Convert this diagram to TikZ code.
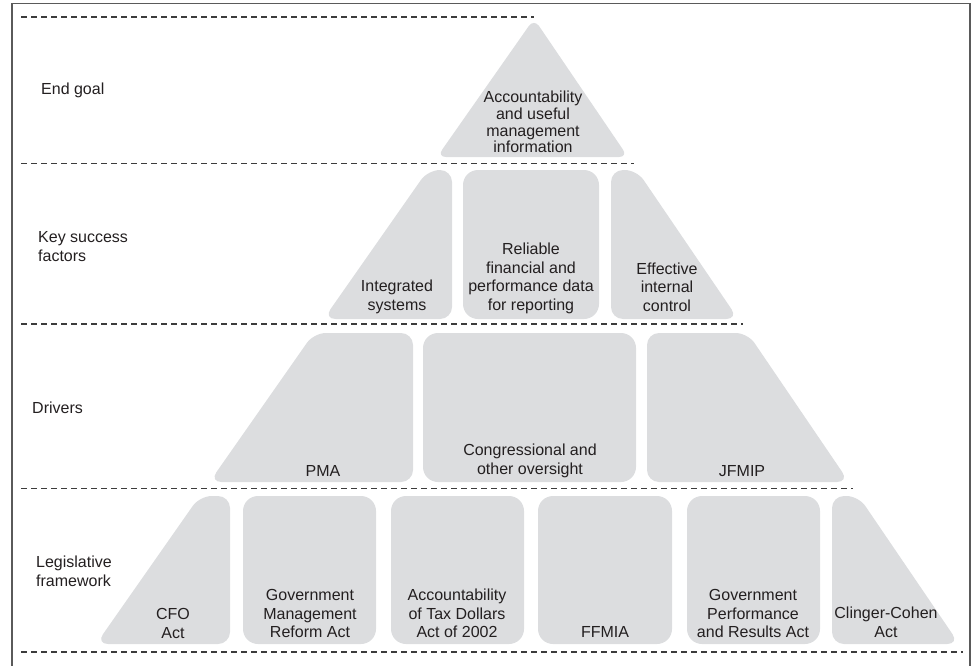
\documentclass[tikz,border=0pt]{standalone}
\usepackage{fontspec}
\setmainfont{Liberation Sans}
\definecolor{boxgray}{RGB}{220,221,223}
\definecolor{textcol}{RGB}{35,31,32}
\definecolor{dashgray}{RGB}{60,60,60}
\definecolor{framegray}{RGB}{90,90,90}
\begin{document}
\begin{tikzpicture}[x=1pt,y=-1pt,
  tri/.style={fill=boxgray, rounded corners=9pt},
  trap/.style={fill=boxgray, rounded corners=12pt},
  rbox/.style={fill=boxgray, rounded corners=15pt},
  dline/.style={draw=dashgray, line width=1.1pt, dash pattern=on 5.5pt off 4.5pt},
  lbl/.style={font=\fontsize{16}{18.5}\selectfont, align=left, anchor=west, inner sep=0pt, text=textcol},
  txt/.style={font=\fontsize{16}{18.5}\selectfont, align=center, inner sep=0pt, text=textcol},
  toptxt/.style={font=\fontsize{16}{16.7}\selectfont, align=center, inner sep=0pt, text=textcol}]
\useasboundingbox (0,0) rectangle (979,666);
% frame
\draw[framegray, line width=1.5pt] (12,670) -- (12,3.3) -- (970,3.3) -- (970,670);
% dashed separators
\coordinate (d0a) at (21,17);   \coordinate (d0b) at (534,17);
\coordinate (d1a) at (21,163.5);\coordinate (d1b) at (634,163.5);
\coordinate (d2a) at (21,324);  \coordinate (d2b) at (743,324);
\coordinate (d3a) at (21,488.5);\coordinate (d3b) at (853,488.5);
\coordinate (d4a) at (21,652);  \coordinate (d4b) at (963,652);
\draw[dline] (d0a) -- (d0b);
\draw[dline] (d1a) -- (d1b);
\draw[dline] (d2a) -- (d2b);
\draw[dline] (d3a) -- (d3b);
\draw[dline] (d4a) -- (d4b);
% tier 0
\fill[tri] (534,18.6) -- (628,157) -- (437,157) -- cycle;
% tier 1
\fill[trap] (323.6,319) -- (427.9,170) -- (452,170) -- (452,319) -- cycle;
\fill[rbox] (463,170) rectangle (599,319);
\fill[trap] (611,170) -- (636.8,170) -- (738.2,319) -- (611,319) -- cycle;
% tier 2
\fill[trap] (209.5,482) -- (313.8,333) -- (413,333) -- (413,482) -- cycle;
\fill[rbox] (423,333) rectangle (636,482);
\fill[trap] (647,333) -- (747.7,333) -- (849,482) -- (647,482) -- cycle;
% tier 3
\fill[trap] (96.1,644) -- (199.7,496) -- (230,496) -- (230,644) -- cycle;
\fill[rbox] (243,496) rectangle (376,644);
\fill[rbox] (391,496) rectangle (524,644);
\fill[rbox] (538,496) rectangle (672,644);
\fill[rbox] (687,496) rectangle (820,644);
\fill[trap] (832,496) -- (858.5,496) -- (959.2,644) -- (832,644) -- cycle;
% left labels
\node[lbl] (lend) at (41,90) {End goal};
\node[lbl] (lkey) at (38,246.5) {Key success\\factors};
\node[lbl] (ldrv) at (32,408) {Drivers};
\node[lbl] (lleg) at (36,571.5) {Legislative\\framework};
% texts
\node[toptxt] (goal) at (533,122) {Accountability\\and useful\\management\\information};
\node[txt] (integ) at (397,297) {Integrated\\systems};
\node[txt] (reli) at (531,278.5) {Reliable\\financial and\\performance data\\for reporting};
\node[txt] (effic) at (667,287) {Effective\\internal\\control};
\node[txt] (pma) at (323,471) {PMA};
\node[txt] (cong) at (530,461) {Congressional and\\other oversight};
\node[txt] (jfmip) at (742,471) {JFMIP};
\node[txt] (cfo) at (173,623.5) {CFO\\Act};
\node[txt] (gmra) at (310,613.5) {Government\\Management\\Reform Act};
\node[txt] (atda) at (457,613.5) {Accountability\\of Tax Dollars\\Act of 2002};
\node[txt] (ffmia) at (605,632) {FFMIA};
\node[txt] (gpra) at (753,613.5) {Government\\Performance\\and Results Act};
\node[txt] (cc) at (886,622.5) {Clinger-Cohen\\Act};
\end{tikzpicture}
\end{document}
